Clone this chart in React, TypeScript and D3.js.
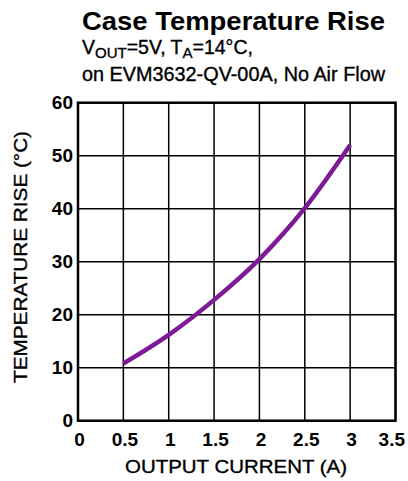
import React from "react";
import * as d3 from "d3";

const currentA = [0.5, 1, 1.5, 2, 2.5, 3];
const tempRise = [10.8, 16.2, 22.8, 30.5, 40.1, 52];
const xTicks = [0, 0.5, 1, 1.5, 2, 2.5, 3, 3.5];
const yTicks = [0, 10, 20, 30, 40, 50, 60];

export default function App() {
  const W = 408, H = 481;
  const left = 78, right = 395.5, top = 102.7, bottom = 420.7;
  const x = d3.scaleLinear().domain([0, 3.5]).range([left, right]);
  const y = d3.scaleLinear().domain([0, 60]).range([bottom, top]);
  const line = d3
    .line<number>()
    .x((_, i) => x(currentA[i]))
    .y((d) => y(d))
    .curve(d3.curveMonotoneX);
  const font = "'Liberation Sans', Arial, sans-serif";
  const lastTick = xTicks[xTicks.length - 1];
  return (
    <svg
      width={W}
      height={H}
      style={{ position: "absolute", left: 0, top: 0, background: "#fff" }}
      fontFamily={font}
    >
      <text x={82} y={30} fontSize={25} fontWeight="bold" textLength={303} lengthAdjust="spacingAndGlyphs">Case Temperature Rise</text>
      <text x={82} y={54} fontSize={19.5} stroke="#000" strokeWidth={0.35}>
        V<tspan fontSize={15} dy={4}>OUT</tspan>
        <tspan dy={-4}>=5V, T</tspan>
        <tspan fontSize={15} dy={4}>A</tspan>
        <tspan dy={-4}>=14°C,</tspan>
      </text>
      <text x={82} y={81} fontSize={19.5} stroke="#000" strokeWidth={0.35} textLength={303} lengthAdjust="spacingAndGlyphs">on EVM3632-QV-00A, No Air Flow</text>

      {xTicks.map((t) => (
        <line key={"gx" + t} x1={x(t)} x2={x(t)} y1={top} y2={bottom} stroke="#000" strokeWidth={1.5} />
      ))}
      {yTicks.map((t) => (
        <line key={"gy" + t} x1={left} x2={right} y1={y(t)} y2={y(t)} stroke="#000" strokeWidth={1.5} />
      ))}
      <rect x={left} y={top} width={right - left} height={bottom - top} fill="none" stroke="#000" strokeWidth={2.5} />

      <path d={line(tempRise) || ""} fill="none" stroke="#7D1A96" strokeWidth={4.5} strokeLinecap="butt" />

      {yTicks.map((t) => (
        <text key={"ly" + t} x={73} y={y(t) + 6.5} fontSize={19} fontWeight="bold" textAnchor="end">{t}</text>
      ))}
      {xTicks.map((t) => (
        <text
          key={"lx" + t}
          x={t === lastTick ? 405 : x(t) + 1.5}
          y={446}
          fontSize={19}
          fontWeight="bold"
          textAnchor={t === lastTick ? "end" : "middle"}
        >{t}</text>
      ))}
      <text x={236} y={473} fontSize={19} textAnchor="middle" stroke="#000" strokeWidth={0.35} textLength={222} lengthAdjust="spacingAndGlyphs">OUTPUT CURRENT (A)</text>
      <text
        transform={`translate(27,${257}) rotate(-90)`}
        fontSize={18}
        textAnchor="middle"
        stroke="#000"
        strokeWidth={0.35}
        textLength={252}
        lengthAdjust="spacingAndGlyphs"
      >TEMPERATURE RISE (°C)</text>
    </svg>
  );
}
